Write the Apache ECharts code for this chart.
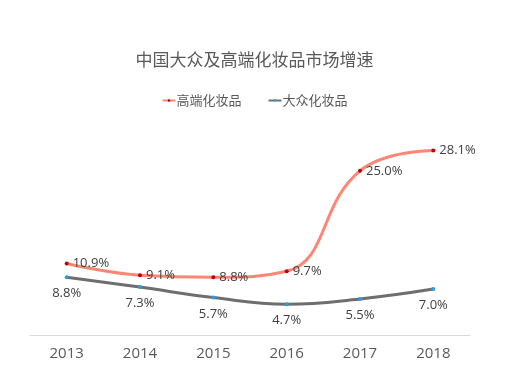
<!DOCTYPE html>
<html><head><meta charset="utf-8">
<script src="https://cdn.jsdelivr.net/npm/echarts@6/dist/echarts.min.js"></script>
<style>html,body{margin:0;padding:0;background:#fff}#c{width:509px;height:390px}</style>
</head><body><div id="c"></div>
<script>
const categories = ['2013','2014','2015','2016','2017','2018'];
const premium = [10.9, 9.1, 8.8, 9.7, 25.0, 28.1];
const mass = [8.8, 7.3, 5.7, 4.7, 5.5, 7.0];
const titleText = '中国大众及高端化妆品市场增速';
const premiumName = '高端化妆品';
const massName = '大众化妆品';
const font = '"Noto Sans CJK SC", "Noto Sans", sans-serif';
const chart = echarts.init(document.getElementById('c'));
chart.setOption({
  animation: false,
  title: { text: titleText, left: 'center', top: 46, textStyle: { fontFamily: font, fontSize: 17, fontWeight: 'normal', color: '#595959' } },
  legend: { top: 89, left: 'center', itemGap: 26, itemWidth: 13, itemHeight: 3,
    textStyle: { fontFamily: font, fontSize: 13, color: '#595959', padding: [0, 0, 0, -4] },
    data: [premiumName, massName] },
  grid: { left: 30, right: 39, top: 138, bottom: 55 },
  xAxis: { type: 'category', data: categories, boundaryGap: true,
    axisLine: { lineStyle: { color: '#D9D9D9', width: 1 } }, axisTick: { show: false },
    axisLabel: { fontFamily: '"Open Sans", "Noto Sans", sans-serif', fontSize: 15, color: '#595959', margin: 11 } },
  yAxis: { type: 'value', min: 0, max: 30, show: false, splitLine: { show: false } },
  series: [
    { name: premiumName, type: 'line', data: premium, smooth: 0.45, symbol: 'circle', symbolSize: 4,
      lineStyle: { color: '#FF8575', width: 3 }, itemStyle: { color: '#C00000' },
      label: { show: true, position: 'right', distance: 4, formatter: p => p.value.toFixed(1) + '%', fontFamily: '"Open Sans", "Noto Sans", sans-serif', fontSize: 13, color: '#404040' } },
    { name: massName, type: 'line', data: mass, smooth: 0.45, symbol: 'circle', symbolSize: 4,
      lineStyle: { color: '#6E6E6E', width: 3 }, itemStyle: { color: '#2E9BE0' },
      label: { show: true, position: 'bottom', distance: 8, formatter: p => p.value.toFixed(1) + '%', fontFamily: '"Open Sans", "Noto Sans", sans-serif', fontSize: 13, color: '#404040' } }
  ]
});
</script></body></html>
